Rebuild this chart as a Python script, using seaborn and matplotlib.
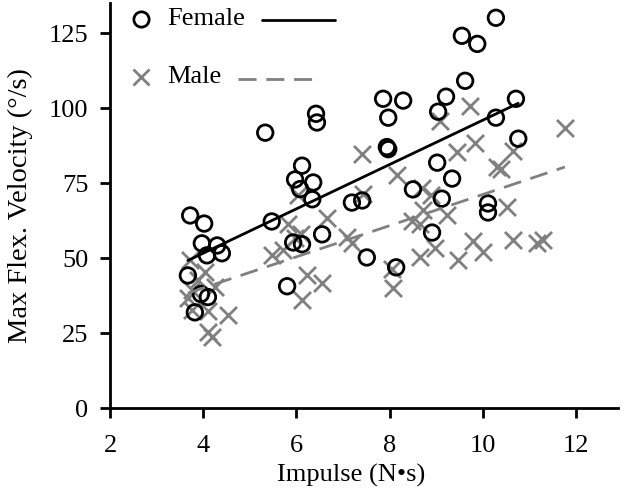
import matplotlib
matplotlib.use("Agg")
import matplotlib.pyplot as plt
import seaborn as sns
import pandas as pd
from matplotlib.lines import Line2D
from matplotlib.offsetbox import DrawingArea, TextArea, HPacker, VPacker, AnchoredOffsetbox

# ---- data ----
female_impulse = [3.72, 4.02, 3.97, 4.30, 4.08, 4.40, 3.67, 3.95, 4.10, 3.82,
                  5.47, 5.93, 6.12, 6.55, 5.80, 7.51, 5.33, 6.42, 6.44, 6.12,
                  5.97, 6.36, 6.08, 6.34, 7.19, 7.41, 7.86, 8.29, 7.97, 7.94,
                  7.97, 9.02, 9.34, 8.50, 9.12, 8.91, 8.14, 10.11, 10.11, 9.55,
                  9.88, 10.28, 9.62, 9.21, 9.04, 10.71, 10.28, 10.76]
female_velocity = [64.2, 61.5, 54.9, 54.2, 50.9, 51.6, 44.2, 38.0, 37.0, 31.9,
                   62.2, 55.2, 54.6, 57.9, 40.6, 50.2, 91.8, 98.1, 95.2, 80.8,
                   76.2, 75.2, 73.0, 69.6, 68.5, 69.2, 103.1, 102.5, 96.8, 87.0,
                   86.3, 81.8, 76.5, 72.9, 69.8, 58.5, 46.9, 68.2, 65.2, 124.1,
                   121.4, 130.1, 109.1, 103.8, 98.8, 103.1, 96.8, 89.8]
male_impulse = [3.72, 4.04, 3.89, 3.75, 3.67, 3.76, 4.10, 4.53, 4.10, 4.19,
                4.25, 5.47, 5.71, 5.97, 6.10, 5.82, 6.66, 7.09, 7.19, 6.23,
                6.55, 6.12, 6.03, 7.41, 7.43, 8.16, 9.45, 9.83, 8.70, 8.89,
                8.72, 9.23, 8.48, 8.65, 8.97, 8.65, 9.47, 9.79, 8.05, 8.07,
                10.0, 10.52, 10.65, 11.16, 11.29, 10.30, 10.40, 9.73, 9.08, 11.76,
                10.65]
male_velocity = [49.5, 45.5, 42.6, 39.5, 36.6, 32.6, 32.3, 30.9, 25.3, 23.8,
                 40.5, 50.9, 52.6, 56.6, 58.0, 61.5, 63.5, 56.9, 54.9, 44.2,
                 41.6, 35.9, 70.9, 84.8, 71.5, 77.8, 85.2, 88.2, 73.2, 70.9,
                 66.0, 64.2, 62.5, 61.5, 53.4, 50.2, 49.2, 55.6, 46.4, 39.9,
                 51.9, 66.9, 55.9, 54.9, 55.9, 80.2, 79.8, 100.8, 95.8, 93.2,
                 85.8]
group_labels = ["Female", "Male"]
x_ticks = [2, 4, 6, 8, 10, 12]
y_ticks = [0, 25, 50, 75, 100, 125]
x_label = "Impulse (N\u2022s)"
y_label = "Max Flex. Velocity (\u00b0/s)"

# ---- style ----
sns.set_theme(style="ticks")
plt.rcParams['font.family'] = ['Liberation Serif', 'DejaVu Serif']
FS = 19
BLACK = "#000000"
GRAY = "#808080"

fig = plt.figure(figsize=(6.36, 4.92), dpi=100)
ax = fig.add_axes([0.173, 0.1707, 0.7987, 0.823])

female = pd.DataFrame({"x": female_impulse, "y": female_velocity})
male = pd.DataFrame({"x": male_impulse, "y": male_velocity})

sns.scatterplot(data=male, x="x", y="y", marker="x", color=GRAY, s=150,
                linewidth=2.0, ax=ax, zorder=2)
sns.scatterplot(data=female, x="x", y="y", marker="o", facecolor="none",
                edgecolor=BLACK, s=125, linewidth=2.0, ax=ax, zorder=3)

sns.regplot(data=female, x="x", y="y", scatter=False, ci=None, ax=ax,
            line_kws=dict(color=BLACK, lw=2.0, zorder=4))
sns.regplot(data=male, x="x", y="y", scatter=False, ci=None, ax=ax,
            line_kws=dict(color=GRAY, lw=2.0, dashes=(6.5, 3.5), zorder=4))

ax.set_xlim(2, 12.9)
ax.set_ylim(0, 135)
ax.set_xticks(x_ticks)
ax.set_yticks(y_ticks)
ax.set_xticklabels([str(v) for v in x_ticks])
ax.set_yticklabels([str(v) for v in y_ticks])
ax.set_xlabel(x_label, fontsize=FS, color=BLACK)
ax.set_ylabel(y_label, fontsize=20.5, color=BLACK)
ax.xaxis.set_label_coords(0.474, -0.138)
ax.yaxis.set_label_coords(-0.152, 0.5)
ax.tick_params(axis="both", direction="out", length=7.5, width=2,
               labelsize=FS, colors=BLACK)
ax.tick_params(axis="x", pad=12)
ax.tick_params(axis="y", pad=8)
for side in ["top", "right"]:
    ax.spines[side].set_visible(False)
for side in ["left", "bottom"]:
    ax.spines[side].set_linewidth(2)
    ax.spines[side].set_color(BLACK)
ax.grid(False)

# ---- legend: marker, label, line sample ----
def legend_row(label, marker_kw, line_kw):
    h = 20
    da_m = DrawingArea(20, h, 0, 0)
    da_m.add_artist(Line2D([10], [h / 2], linestyle="none", **marker_kw))
    ta = TextArea(label, textprops=dict(fontsize=FS, color=BLACK,
                                        family=['Liberation Serif', 'DejaVu Serif']))
    L = 53
    da_l = DrawingArea(L, h, 0, 0)
    da_l.add_artist(Line2D([0, L], [h / 2 - 1, h / 2 - 1], **line_kw))
    left = HPacker(children=[da_m, ta], align="center", pad=0, sep=9)
    return HPacker(children=[left, da_l], align="center", pad=0, sep=12)

rows = [
    legend_row(group_labels[0],
               dict(marker="o", markersize=11, markerfacecolor="none",
                    markeredgecolor=BLACK, markeredgewidth=2.0),
               dict(color=BLACK, lw=2.0)),
    legend_row(group_labels[1],
               dict(marker="x", markersize=11.5, markeredgecolor=GRAY,
                    markeredgewidth=2.0),
               dict(color=GRAY, lw=2.0, dashes=(6.5, 3.5))),
]
vbox = VPacker(children=rows, align="left", pad=0, sep=22)
anch = AnchoredOffsetbox(loc="upper left", child=vbox, pad=0, borderpad=0,
                         frameon=False, bbox_to_anchor=(0.033, 0.995),
                         bbox_transform=ax.transAxes)
ax.add_artist(anch)

fig.savefig("out.png", dpi=100)
